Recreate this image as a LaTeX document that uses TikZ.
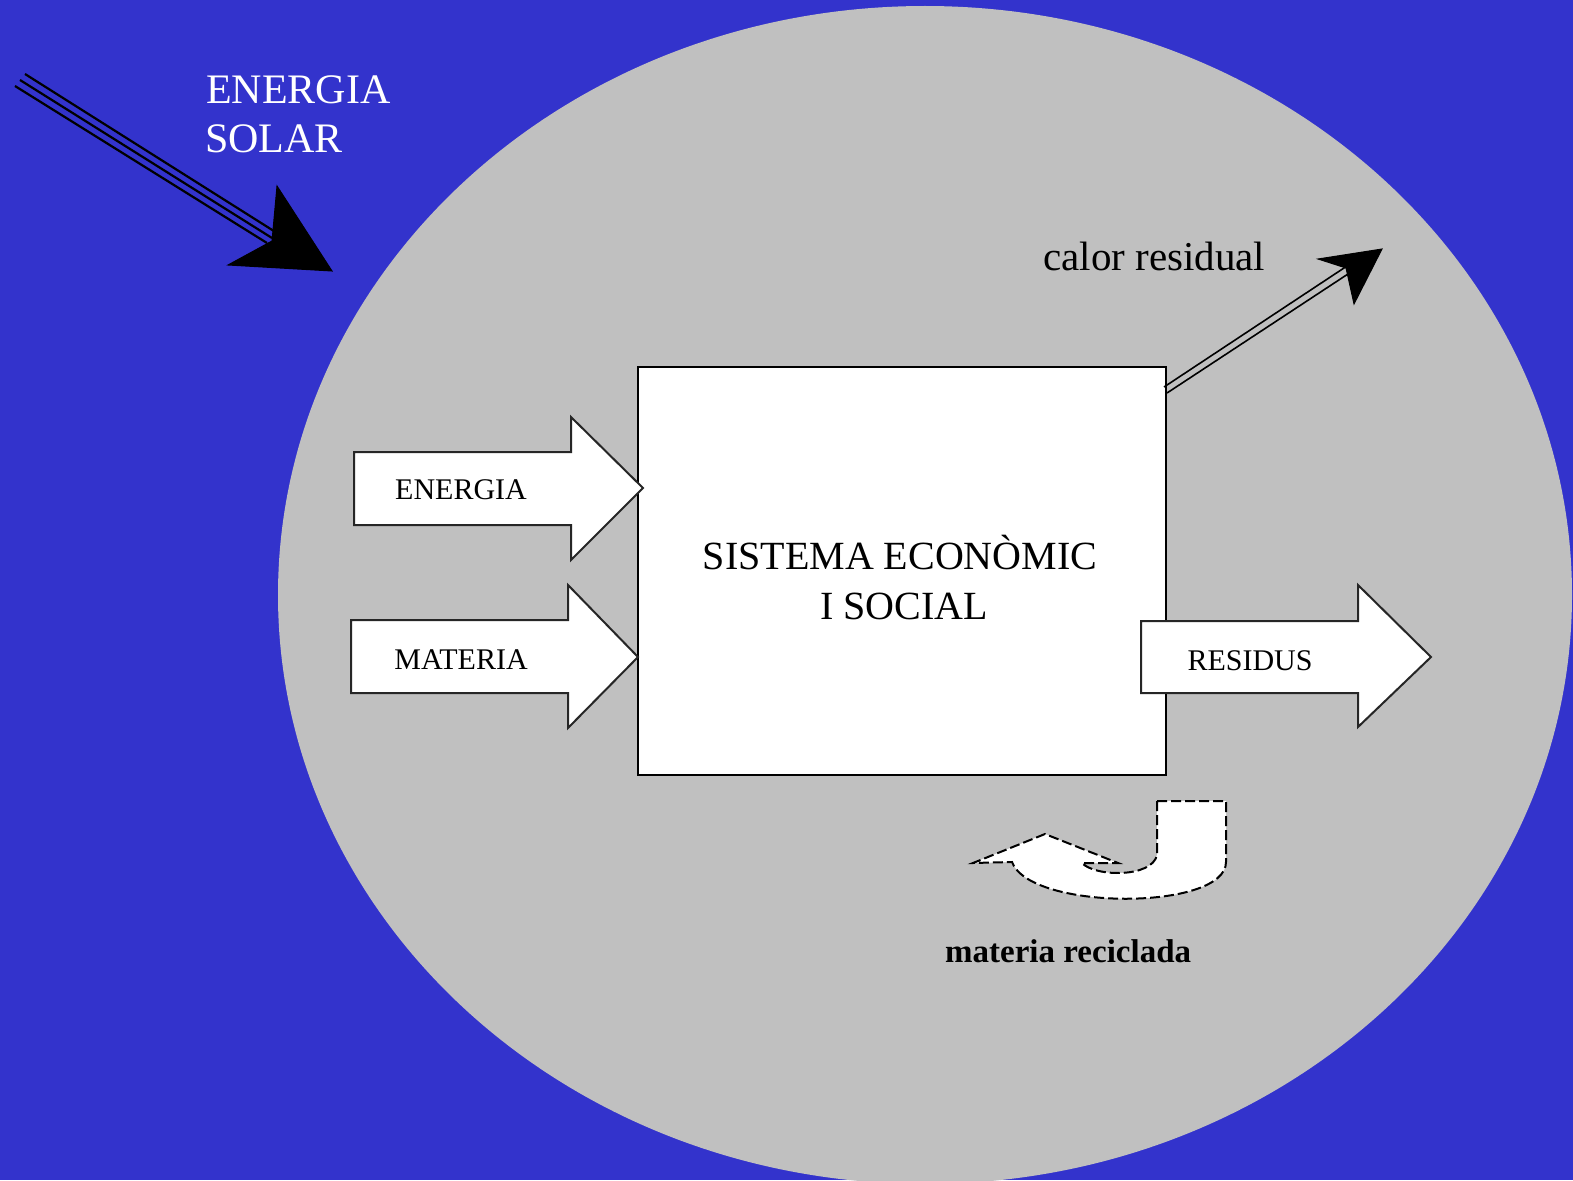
\documentclass[tikz,border=0pt]{standalone}
\usepackage{fontspec}
\setmainfont{Liberation Serif}
\definecolor{bgblue}{RGB}{51,51,204}
\definecolor{ellgray}{RGB}{192,192,192}
\begin{document}
\begin{tikzpicture}[x=1pt,y=-1pt,
  blockarrow/.style={fill=white,draw=black!85,line width=2pt,line join=miter},
  smalllbl/.style={inner sep=0pt,anchor=base,font=\fontsize{30}{36}\selectfont},
  biglbl/.style={inner sep=0pt,anchor=base,font=\fontsize{40}{50}\selectfont},
  thinline/.style={line width=1.6pt,black},
  headfill/.style={fill=black,draw=black,line width=1pt,line join=miter}]
\useasboundingbox (0,0) rectangle (1573,1180);
\fill[bgblue] (0,0) rectangle (1573,1180);
\begin{scope}
  \clip (0,0) rectangle (1573,1180);
  \fill[ellgray] (925,595) ellipse [x radius=647pt, y radius=589pt];
\end{scope}

% central box
\node[draw=black,line width=2pt,fill=white,minimum width=528pt,minimum height=408pt,
      inner sep=0pt,anchor=north west] (box) at (637,366) {};
\node[biglbl] (sis1) at (900,569) {SISTEMA ECONÒMIC};
\node[biglbl] (sis2) at (904,619) {I SOCIAL};

% input arrows
\draw[blockarrow] (354,452) -- (571,452) -- (571,417) -- (643,488) -- (571,560)
      -- (571,525) -- (354,525) -- cycle;
\node[smalllbl] (energia) at (461,499) {ENERGIA};
\draw[blockarrow] (351,620) -- (568,620) -- (568,585) -- (638,657) -- (568,728)
      -- (568,693) -- (351,693) -- cycle;
\node[smalllbl] (materia) at (461,669) {MATERIA};

% output arrow
\draw[blockarrow] (1141,621) -- (1358,621) -- (1358,585) -- (1431,657) -- (1358,727)
      -- (1358,693) -- (1141,693) -- cycle;
\node[smalllbl] (residus) at (1250,670) {RESIDUS};

% solar energy
\coordinate (s1a) at (25,74);  \coordinate (s1b) at (277,233);
\coordinate (s2a) at (20,80);  \coordinate (s2b) at (272,238);
\coordinate (s3a) at (15,86);  \coordinate (s3b) at (267,243);
\draw[line width=2.2pt] (s1a) -- (s1b);
\draw[line width=2.2pt] (s2a) -- (s2b);
\draw[line width=2.2pt] (s3a) -- (s3b);
\draw[headfill] (277,186) -- (332,271) -- (228,265) -- (272,241) -- cycle;
\node[inner sep=0pt,anchor=base west,text=white,font=\fontsize{42}{52}\selectfont]
      (sol1) at (206,103) {ENERGIA};
\node[inner sep=0pt,anchor=base west,text=white,font=\fontsize{42}{52}\selectfont]
      (sol2) at (205,153) {SOLAR};

% calor residual
\coordinate (c1a) at (1164,387); \coordinate (c1b) at (1347,266);
\coordinate (c2a) at (1167,393); \coordinate (c2b) at (1351,272);
\draw[thinline] (c1a) -- (c1b);
\draw[thinline] (c2a) -- (c2b);
\draw[headfill] (1318,259) -- (1382,249) -- (1354,304) -- (1346,268) -- cycle;
\node[inner sep=0pt,anchor=base west,font=\fontsize{41}{50}\selectfont]
      (calor) at (1043,270) {calor residual};

% recycled matter
\draw[fill=white,draw=black,line width=2pt,dash pattern=on 10pt off 4pt,line join=miter]
  (1157,801) -- (1226,801) -- (1226,862)
  .. controls (1226,911) and (1030,911) .. (1012,862)
  -- (973,863) -- (1045,834) -- (1118,863) -- (1082,863)
  .. controls (1095,877) and (1152,878) .. (1157,855) -- cycle;
\node[inner sep=0pt,anchor=base west,font=\bfseries\fontsize{33}{40}\selectfont]
      (recic) at (945,962) {materia reciclada};
\end{tikzpicture}
\end{document}
